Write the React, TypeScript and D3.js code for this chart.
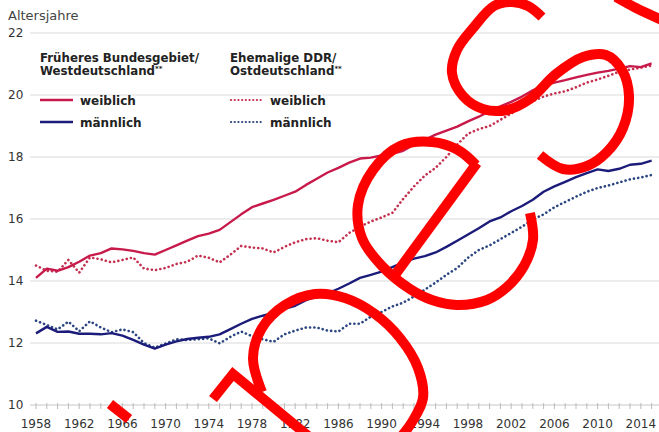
import React from "react";
import * as d3 from "d3";

const years: number[] = d3.range(1958, 2016);

const westFemale: number[] = [
  14.1, 14.4, 14.33, 14.45, 14.62, 14.82, 14.9, 15.05, 15.02, 14.97,
  14.9, 14.85, 15.0, 15.15, 15.3, 15.45, 15.53, 15.65, 15.9, 16.15,
  16.38, 16.5, 16.62, 16.75, 16.88, 17.1, 17.3, 17.5, 17.65, 17.82,
  17.95, 17.98, 18.05, 18.1, 18.2, 18.4, 18.55, 18.72, 18.85, 18.98,
  19.15, 19.3, 19.48, 19.63, 19.78, 19.95, 20.15, 20.3, 20.4, 20.48,
  20.57, 20.65, 20.72, 20.78, 20.85, 20.93, 20.9, 21.02,
];

const eastFemale: number[] = [
  14.5, 14.33, 14.3, 14.68, 14.27, 14.76, 14.7, 14.6, 14.68, 14.76,
  14.4, 14.35, 14.42, 14.55, 14.62, 14.82, 14.75, 14.6, 14.85, 15.13,
  15.08, 15.05, 14.92, 15.1, 15.25, 15.35, 15.38, 15.3, 15.25, 15.55,
  15.75, 15.92, 16.05, 16.2, 16.65, 17.05, 17.4, 17.65, 18.0, 18.4,
  18.75, 18.9, 19.0, 19.2, 19.4, 19.62, 19.8, 19.95, 20.05, 20.12,
  20.25, 20.4, 20.5, 20.62, 20.75, 20.82, 20.88, 20.95,
];

const westMale: number[] = [
  12.31, 12.52, 12.36, 12.37, 12.3, 12.3, 12.28, 12.32, 12.24, 12.1,
  11.95, 11.82, 11.95, 12.05, 12.13, 12.17, 12.2, 12.28, 12.45, 12.62,
  12.78, 12.88, 12.97, 13.1, 13.2, 13.38, 13.5, 13.6, 13.75, 13.92,
  14.1, 14.2, 14.3, 14.45, 14.6, 14.72, 14.8, 14.92, 15.1, 15.3,
  15.5, 15.7, 15.92, 16.05, 16.25, 16.42, 16.62, 16.88, 17.05, 17.2,
  17.35, 17.48, 17.6, 17.55, 17.62, 17.75, 17.78, 17.88,
];

const eastMale: number[] = [
  12.72, 12.58, 12.44, 12.69, 12.38, 12.7, 12.5, 12.35, 12.44, 12.35,
  12.0, 11.85, 11.98, 12.12, 12.1, 12.12, 12.15, 11.99, 12.2, 12.37,
  12.22, 12.12, 12.04, 12.28, 12.4, 12.5, 12.5, 12.4, 12.37, 12.62,
  12.62, 12.85, 13.0, 13.18, 13.3, 13.5, 13.72, 13.95, 14.2, 14.42,
  14.75, 15.0, 15.15, 15.35, 15.55, 15.75, 15.98, 16.15, 16.38, 16.55,
  16.72, 16.88, 17.0, 17.08, 17.18, 17.28, 17.34, 17.42,
];

const yTicks: number[] = [10, 12, 14, 16, 18, 20, 22];
const xTickLabels: number[] = d3.range(1958, 2015, 4);

// freehand red overlay strokes drawn over the picture (pixel space)
const overlayCurves: [number, number][][] = [
  [[542, 17], [528, 6], [512, 2], [494, 6], [474, 27], [457, 50], [452, 73], [463, 96], [483, 109], [507, 110], [530, 99], [556, 74], [583, 57], [606, 55], [622, 70], [629, 96], [623, 128], [607, 152], [587, 166], [563, 169], [540, 155]],
  [[616, -3], [636, 8], [662, 20]],
  [[476, 165], [458, 150], [432, 142], [400, 146], [373, 170], [358, 205], [362, 238], [382, 266], [410, 289], [432, 300], [457, 305], [487, 300], [507, 287], [524, 266], [533, 240], [530, 213]],
  [[262, 392], [253, 358], [262, 328], [285, 305], [315, 294], [345, 298], [375, 314], [400, 338], [418, 368], [423, 398], [412, 422], [400, 438]],
];
const overlayPolylines: [number, number][][] = [
  [[477, 163], [392, 279]],
  [[213, 399], [233, 374], [313, 440]],
  [[110, 404], [129, 419]],
];

const W = 659;
const H = 432;
const RED = "#c8194b";
const RED_DOT = "#c4304f";
const BLUE = "#1b1b7a";
const BLUE_DOT = "#2a4580";
const FONT = "'DejaVu Sans', Verdana, sans-serif";

export default function App() {
  const x = d3.scaleLinear().domain([1958, 2015]).range([36, 651.6]);
  const y = d3.scaleLinear().domain([10, 22]).range([405, 33]);

  const mk = (vals: number[]) =>
    d3
      .line<number>()
      .x((_, i) => x(years[i]))
      .y((v) => y(v))(vals) as string;

  const curve = d3
    .line<[number, number]>()
    .x((d) => d[0])
    .y((d) => d[1])
    .curve(d3.curveCatmullRom.alpha(0.5));
  const poly = d3
    .line<[number, number]>()
    .x((d) => d[0])
    .y((d) => d[1]);

  return (
    <svg
      width={W}
      height={H}
      style={{ position: "absolute", left: 0, top: 0, background: "#fff" }}
      fontFamily={FONT}
    >
      <rect width={W} height={H} fill="#fff" />
      <text x={8} y={20} fontSize={13} fill="#444">
        Altersjahre
      </text>
      {yTicks.map((t) => (
        <g key={t}>
          {t > 10 && (
            <line x1={30} x2={W} y1={y(t)} y2={y(t)} stroke="#dcdcdc" strokeWidth={1.2} />
          )}
          <text x={8} y={y(t)} dy="0.36em" fontSize={12} fill="#333">
            {t}
          </text>
        </g>
      ))}
      {/* x axis */}
      <line x1={30} x2={W} y1={y(10)} y2={y(10)} stroke="#c8c8c8" strokeWidth={1.2} />
      {d3.range(1958, 2016).map((yr) => (
        <line
          key={yr}
          x1={x(yr)}
          x2={x(yr)}
          y1={y(10) - 2}
          y2={y(10) + 4}
          stroke="#bbb"
          strokeWidth={1}
        />
      ))}
      {xTickLabels.map((yr) => (
        <text key={yr} x={x(yr)} y={428} fontSize={12} fill="#333" textAnchor="middle">
          {yr}
        </text>
      ))}

      {/* legend */}
      <g fill="#222" fontWeight="bold">
        <text x={40} y={61.5} fontSize={11.8}>Früheres Bundesgebiet/</text>
        <text x={40} y={75} fontSize={11.8}>
          Westdeutschland<tspan dy={-4} fontSize={7}>**</tspan>
        </text>
        <text x={230} y={61.5} fontSize={11.8}>Ehemalige DDR/</text>
        <text x={230} y={75} fontSize={11.8}>
          Ostdeutschland<tspan dy={-4} fontSize={7}>**</tspan>
        </text>
        <text x={80} y={104.5} fontSize={12}>weiblich</text>
        <text x={80} y={126.5} fontSize={12}>männlich</text>
        <text x={270} y={104.5} fontSize={12}>weiblich</text>
        <text x={270} y={126.5} fontSize={12}>männlich</text>
      </g>
      <line x1={40} x2={73} y1={100} y2={100} stroke={RED} strokeWidth={2.6} />
      <line x1={40} x2={73} y1={122} y2={122} stroke={BLUE} strokeWidth={2.6} />
      <line x1={231} x2={263} y1={100} y2={100} stroke={RED_DOT} strokeWidth={2.2} strokeDasharray="0.1 3.6" strokeLinecap="round" />
      <line x1={231} x2={263} y1={122} y2={122} stroke={BLUE_DOT} strokeWidth={2.2} strokeDasharray="0.1 3.6" strokeLinecap="round" />

      {/* series */}
      <path d={mk(eastFemale)} fill="none" stroke={RED_DOT} strokeWidth={2.6} strokeDasharray="0.1 4.2" strokeLinecap="round" />
      <path d={mk(eastMale)} fill="none" stroke={BLUE_DOT} strokeWidth={2.6} strokeDasharray="0.1 4.2" strokeLinecap="round" />
      <path d={mk(westFemale)} fill="none" stroke={RED} strokeWidth={2.4} strokeLinejoin="round" />
      <path d={mk(westMale)} fill="none" stroke={BLUE} strokeWidth={2.4} strokeLinejoin="round" />

      {/* overlay */}
      {overlayCurves.map((pts, i) => (
        <path key={"c" + i} d={curve(pts) as string} fill="none" stroke="#ff0000" strokeWidth={10} />
      ))}
      {overlayPolylines.map((pts, i) => (
        <path key={"p" + i} d={poly(pts) as string} fill="none" stroke="#ff0000" strokeWidth={10} strokeLinejoin="miter" />
      ))}
    </svg>
  );
}
